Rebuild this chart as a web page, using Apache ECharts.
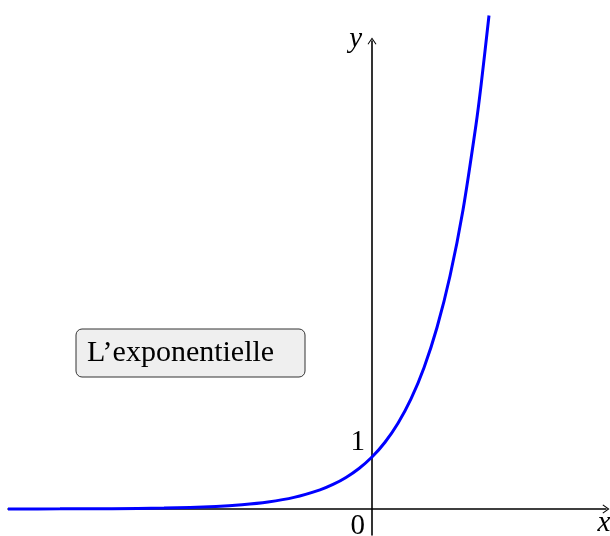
<!DOCTYPE html>
<html>
<head>
<meta charset="utf-8">
<script src="https://cdn.jsdelivr.net/npm/echarts@6/dist/echarts.min.js"></script>
<style>
  html, body { margin: 0; padding: 0; background: #fff; }
  #chart { width: 610px; height: 536px; }
</style>
</head>
<body>
<div id="chart"></div>
<script>
var xValues = [-7, -6, -5, -4, -3, -2.5, -2, -1.5, -1, -0.75, -0.5, -0.25, 0, 0.25, 0.5, 0.75, 1, 1.25, 1.5, 1.75, 2, 2.1, 2.25]
var yValues = [0.001, 0.0025, 0.0067, 0.018, 0.05, 0.082, 0.135, 0.223, 0.368, 0.472, 0.607, 0.779, 1, 1.284, 1.649, 2.117, 2.718, 3.49, 4.48, 5.75, 7.39, 8.17, 9.49]
var xRange = [-7, 4.5]
var yRange = [-0.5, 9]
var boxLabel = 'L\u2019exponentielle'
var boxCenter = [-3.5, 3]

var serif = '"Liberation Serif", "DejaVu Serif", serif'
var arrow = 'path://M5 0 L10 7.2 L9.1 7.9 L5 2 L0.9 7.9 L0 7.2 Z'

var chart = echarts.init(document.getElementById('chart'))

var axisCommon = {
  type: 'value',
  axisLine: {
    show: true,
    onZero: true,
    symbol: ['none', arrow],
    symbolSize: [9, 7],
    lineStyle: { color: '#000', width: 1.6 }
  },
  axisTick: { show: false },
  axisLabel: { show: false },
  splitLine: { show: false }
}

chart.setOption({
  animation: false,
  grid: { left: 8, right: 4, top: 41, bottom: 1 },
  xAxis: Object.assign({ min: xRange[0], max: xRange[1] }, axisCommon),
  yAxis: Object.assign({ min: yRange[0], max: yRange[1] }, axisCommon),
  series: [{
    type: 'line',
    data: xValues.map(function (x, i) { return [x, yValues[i]] }),
    smooth: 0.3,
    showSymbol: false,
    clip: false,
    lineStyle: { color: '#0000ff', width: 3 },
    z: 3
  }]
})

// labels placed relative to axis anchors
var o = chart.convertToPixel('grid', [0, 0])
var one = chart.convertToPixel('grid', [0, 1])
var xEnd = chart.convertToPixel('grid', [xRange[1], 0])
var yEnd = chart.convertToPixel('grid', [0, yRange[1]])
var bc = chart.convertToPixel('grid', boxCenter)

var txt = function (s, x, y, align, italic, size) {
  return {
    type: 'text', x: x, y: y, z: 10,
    style: {
      text: s, fill: '#000', align: align, verticalAlign: 'middle',
      font: (italic ? 'italic ' : '') + (size || 29) + 'px ' + serif
    }
  }
}

chart.setOption({
  graphic: [
    txt('0', o[0] - 7, o[1] + 17, 'right'),
    txt('1', one[0] - 7, one[1] - 15, 'right'),
    txt('x', xEnd[0] - 2, xEnd[1] + 14, 'center', true),
    txt('y', yEnd[0] - 10, yEnd[1] - 2, 'right', true),
    {
      type: 'rect', z: 9,
      shape: { x: bc[0] - 114, y: bc[1] - 24, width: 229, height: 48, r: 6 },
      style: { fill: '#efefef', stroke: '#333', lineWidth: 1 }
    },
    txt(boxLabel, bc[0] - 103, bc[1], 'left', false, 30)
  ]
})
</script>
</body>
</html>
